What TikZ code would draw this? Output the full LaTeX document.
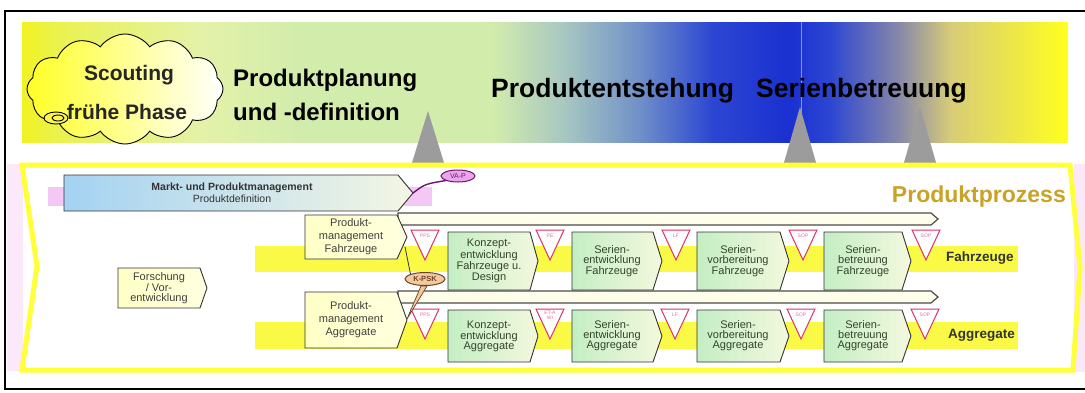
\documentclass[tikz,border=0pt]{standalone}
\usepackage{fontspec}
\setmainfont{Liberation Sans}
\usetikzlibrary{shapes.symbols,shapes.geometric}

% colours
\definecolor{bOne}{HTML}{F2F222}
\definecolor{bTwo}{HTML}{EAF250}
\definecolor{bThree}{HTML}{E4F2A8}
\definecolor{bFour}{HTML}{D2ECAC}
\definecolor{bFive}{HTML}{A6C6C2}
\definecolor{bSix}{HTML}{7090C8}
\definecolor{bSeven}{HTML}{2C46D2}
\definecolor{bEight}{HTML}{1A30D0}
\definecolor{bNine}{HTML}{8A8AA8}
\definecolor{bTen}{HTML}{D8CC78}
\definecolor{bEleven}{HTML}{FFFF1E}
\definecolor{rowYellow}{HTML}{FAFA46}
\definecolor{frameYellow}{HTML}{FFFF3A}
\definecolor{prozessGold}{HTML}{C9A227}
\definecolor{gateRed}{HTML}{E0306A}
\definecolor{mgmtFill}{HTML}{FFFFC6}
\definecolor{procLeft}{HTML}{C4EEC4}
\definecolor{procRight}{HTML}{F4F8DE}
\definecolor{procText}{HTML}{34442C}
\definecolor{marktLeft}{HTML}{A4D2F2}
\definecolor{marktRight}{HTML}{F4F6E4}
\definecolor{vapFill}{HTML}{EBA6EB}
\definecolor{vapLine}{HTML}{6E1470}
\definecolor{kpskFill}{HTML}{F2C9A0}
\definecolor{kpskLine}{HTML}{6E4420}
\definecolor{pinkBand}{HTML}{F4C8F4}
\definecolor{peakGray}{HTML}{9C9C9C}

\pgfdeclarehorizontalshading{phaseband}{100bp}{%
  color(0bp)=(bOne); color(25bp)=(bOne); color(26.8bp)=(bTwo);
  color(33.5bp)=(bThree); color(38.3bp)=(bFour); color(47.5bp)=(bFour);
  color(51bp)=(bFive); color(54.5bp)=(bSix); color(58bp)=(bSeven);
  color(61.7bp)=(bEight); color(63.6bp)=(bSeven); color(67bp)=(bNine);
  color(69.4bp)=(bTen); color(75bp)=(bEleven); color(100bp)=(bEleven)}

% pentagon arrow box: style, x1, y1, x2, y2, tip length
\newcommand\chevbox[6]{%
  \path[#1] (#2,#3) -- (#4,#3) -- ({#4+#6},{(#3+#5)/2}) -- (#4,#5) -- (#2,#5) -- cycle;}
% quality gate: name, x, top y, label
\newcommand\gatemark[4]{%
  \path[gatestyle] ({#2-14},#3) -- ({#2+14},#3) -- (#2,{#3+30}) -- cycle;
  \node[gatelabel] (#1) at (#2,{#3+6}) {#4};}

\tikzset{
  headtext/.style={font=\fontsize{24}{26}\selectfont\bfseries, inner sep=0, text=black},
  bigheadtext/.style={font=\fontsize{26.5}{28}\selectfont\bfseries, inner sep=0, text=black},
  cloudtext/.style={font=\fontsize{21}{23}\selectfont\bfseries, inner sep=0, text=black!85},
  procbox/.style={draw=black!80, line width=0.9pt, left color=procLeft, right color=procRight},
  mgmtbox/.style={draw=black!80, line width=0.9pt, left color=mgmtFill, right color=mgmtFill!55!white},
  marktbox/.style={draw=black!80, line width=0.9pt, left color=marktLeft, right color=marktRight},
  proctext/.style={font=\fontsize{11}{10}\selectfont, align=center, text=procText, inner sep=0},
  mgmttext/.style={font=\fontsize{11}{13}\selectfont, align=center, text=black!75, inner sep=0},
  barstyle/.style={draw=black!70, line width=1.2pt, fill=yellow!8},
  gatestyle/.style={draw=gateRed, line width=1pt, fill=white},
  gatelabel/.style={font=\fontsize{5}{5}\selectfont, text=gateRed!70, inner sep=0, align=center},
  rowlabel/.style={font=\fontsize{13.5}{15}\selectfont\bfseries, text=black!80, inner sep=0, anchor=west},
}

\begin{document}
\begin{tikzpicture}[x=1pt,y=-1pt]
\useasboundingbox (0,0) rectangle (1085,392);
\fill[white] (0,0) rectangle (1085,392);

% phase band across the top
\shade[shading=phaseband] (22,22) rectangle (1068,142);
\draw[blue!45, line width=0.6pt] (801,22) -- (801,142);

% scouting cloud
\node[cloud, cloud puffs=12, cloud puff arc=110, aspect=1.8, draw, line width=0.9pt,
      left color=yellow!85, right color=white, minimum width=196pt, minimum height=110pt,
      inner sep=0] (scout) at (125,89) {};
\draw[line width=0.9pt, fill=yellow!70] (56,118) ellipse [x radius=12, y radius=6];
\draw[line width=0.9pt] (58,118) ellipse [x radius=6, y radius=3];
\node[cloudtext] (scoutA) at (129,75) {Scouting};
\node[cloudtext] (scoutB) at (127,112) {frühe Phase};

% phase titles
\node[headtext, anchor=base west] (planA) at (233,86) {Produktplanung};
\node[headtext, anchor=base west] (planB) at (233,120) {und -definition};
\node[bigheadtext, anchor=base west] (entst) at (491,97) {Produktentstehung};
\node[bigheadtext, anchor=base west] (serbt) at (756,97) {Serienbetreuung};

% milestone peaks
\fill[peakGray] (428,111) -- (445,166) -- (411,166) -- cycle;
\fill[peakGray] (800,107) -- (817,166) -- (783,166) -- cycle;
\fill[peakGray] (920,107) -- (937,166) -- (903,166) -- cycle;

% process frame
\fill[pinkBand!40] (7,164) rectangle (23,371);
\fill[pinkBand!40] (1074,164) rectangle (1085,372);
\draw[frameYellow, line width=5pt, line join=miter]
  (22,165) -- (1070,165) -- (1080,267) -- (1073,370) -- (22,370) -- (37,266) -- cycle;
\node[font=\fontsize{23}{25}\selectfont\bfseries, text=prozessGold, anchor=base east,
      inner sep=0] (prozess) at (1066,202) {Produktprozess};

% row bands
\fill[rowYellow] (255,246) rectangle (1018,272);
\fill[rowYellow] (255,322) rectangle (1018,349);

% market and product management
\fill[pinkBand] (48,187) rectangle (432,206);
\chevbox{marktbox}{64}{175}{398}{211}{15}
\node[font=\fontsize{10.5}{12}\selectfont, align=center, inner sep=0, text=black!80] (markt) at (232,193)
  {\textbf{Markt- und Produktmanagement}\\Produktdefinition};
\coordinate (marktTip) at (413,193);
\node[ellipse, draw=vapLine, line width=1pt, fill=vapFill, inner sep=0.5pt, minimum width=34pt,
      minimum height=12pt, font=\fontsize{7}{7}\selectfont, text=vapLine] (vap) at (458,176) {VA-P};
\draw[vapLine, line width=1.4pt] (marktTip) .. controls (425,184) .. (vap.south west);

% long process bars
\path[barstyle] (398,213) -- (931,213) -- (938,219) -- (931,225) -- (398,225) -- cycle;
\path[barstyle] (398,291) -- (931,291) -- (938,297) -- (931,303) -- (398,303) -- cycle;

% research box
\chevbox{mgmtbox}{118}{268}{200}{308}{7}
\node[proctext, text=black!75] (forsch) at (159,288) {Forschung\\/ Vor-\\entwicklung};

% product management boxes
\chevbox{mgmtbox}{305}{215}{397}{259}{10}
\node[mgmttext] (pmf) at (351,237) {Produkt-\\management\\Fahrzeuge};
\chevbox{mgmtbox}{305}{292}{397}{348}{10}
\node[mgmttext] (pma) at (351,320) {Produkt-\\management\\Aggregate};

% vehicle row
\chevbox{procbox}{448}{232}{530}{290}{8}
\node[proctext] (kf) at (489,261) {Konzept-\\entwicklung\\Fahrzeuge u.\\Design};
\chevbox{procbox}{572}{232}{653}{290}{9}
\node[proctext] (sef) at (612,261) {Serien-\\entwicklung\\Fahrzeuge};
\chevbox{procbox}{697}{232}{780}{290}{9}
\node[proctext] (svf) at (738,261) {Serien-\\vorbereitung\\Fahrzeuge};
\chevbox{procbox}{824}{232}{902}{290}{9}
\node[proctext] (sbf) at (863,261) {Serien-\\betreuung\\Fahrzeuge};
\gatemark{gfA}{425}{230}{PPS}
\gatemark{gfB}{550}{230}{PE}
\gatemark{gfC}{676}{230}{LF}
\gatemark{gfD}{803}{230}{SOP}
\gatemark{gfE}{926}{230}{SOP}
\node[rowlabel] (fzg) at (946,258) {Fahrzeuge};

% aggregate row
\chevbox{procbox}{448}{310}{530}{362}{8}
\node[proctext] (ka) at (489,336) {Konzept-\\entwicklung\\Aggregate};
\chevbox{procbox}{572}{310}{653}{362}{9}
\node[proctext] (sea) at (612,336) {Serien-\\entwicklung\\Aggregate};
\chevbox{procbox}{697}{310}{780}{362}{9}
\node[proctext] (sva) at (738,336) {Serien-\\vorbereitung\\Aggregate};
\chevbox{procbox}{824}{310}{902}{362}{9}
\node[proctext] (sba) at (863,336) {Serien-\\betreuung\\Aggregate};
\gatemark{gaA}{425}{309}{PPS}
\gatemark{gaB}{550}{309}{ET-A\\WI}
\gatemark{gaC}{675}{309}{LF}
\gatemark{gaD}{801}{309}{SOP}
\gatemark{gaE}{925}{309}{SOP}
\node[rowlabel] (agg) at (948,335) {Aggregate};

% K-PSK callout
\coordinate (pmfTip) at (405,247);
\coordinate (pmaTip) at (407,319);
\node[ellipse, draw=kpskLine, line width=1pt, fill=kpskFill, inner sep=0.5pt, minimum width=40pt,
      minimum height=13pt, font=\fontsize{7.5}{8}\selectfont\bfseries, text=kpskLine] (kpsk) at (425,279) {K-PSK};
\draw[black!80, line width=0.8pt] (pmfTip) -- (kpsk.north west);
\filldraw[draw=kpskLine, fill=kpskFill, line width=0.7pt]
  ([xshift=-4pt]kpsk.south) -- (pmaTip) -- ([xshift=2pt]kpsk.south) -- cycle;

% outer frame (its right edge lies past the page)
\draw[black, line width=1.5pt] (5,11) rectangle (1095,389);
\end{tikzpicture}
\end{document}
